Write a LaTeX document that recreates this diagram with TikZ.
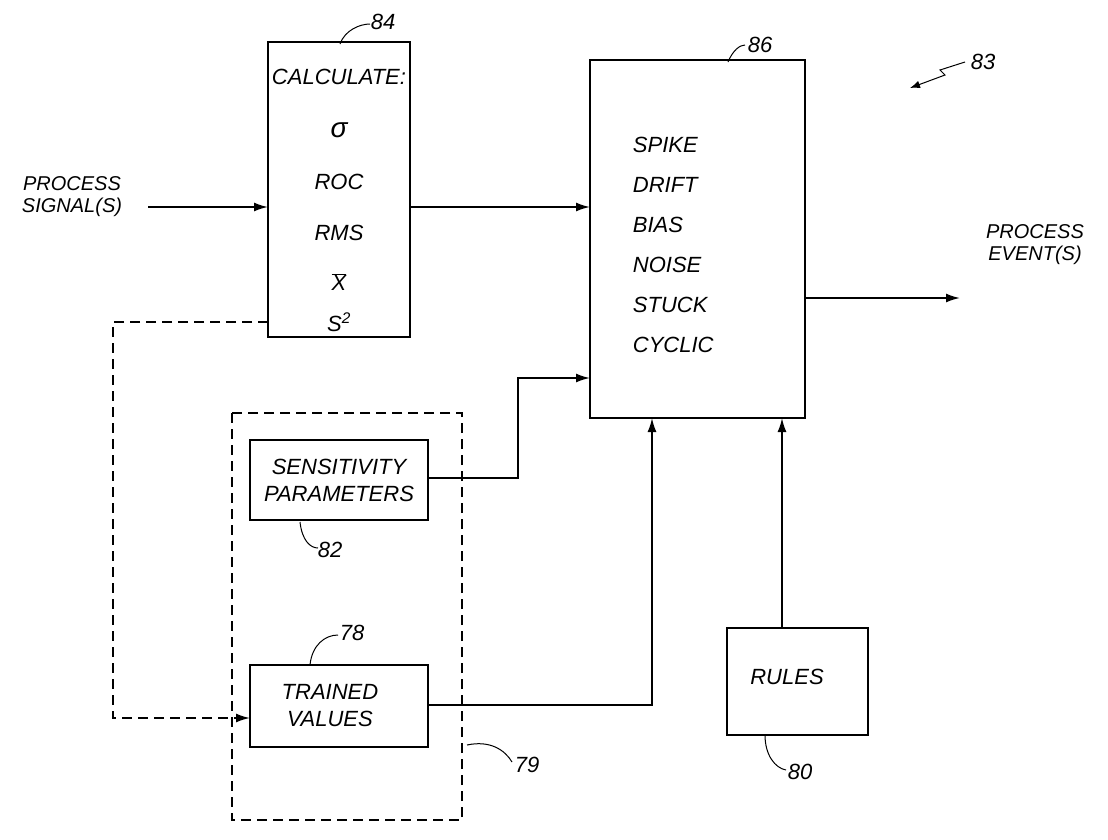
\documentclass[tikz,border=0pt]{standalone}
\usepackage{fontspec}
\setmainfont{Liberation Sans}
\usetikzlibrary{arrows.meta}
\begin{document}
\begin{tikzpicture}[x=1pt,y=-1pt,line width=1.8pt,
  txt/.style={font=\fontsize{22}{27}\selectfont\itshape,inner sep=0pt,align=center},
  lbl/.style={font=\fontsize{22}{26}\selectfont\itshape,inner sep=1pt},
  arr/.style={-{Latex[length=14pt,width=9pt]}},
  dsh/.style={dash pattern=on 10pt off 6pt}]
\useasboundingbox (0,0) rectangle (1108,839);
% boxes
\draw (268,42) rectangle (410,337);
\draw (590,60) rectangle (805,418);
\draw[dsh] (232,413) rectangle (462,820);
\draw (250,440) rectangle (428,520);
\draw (250,665) rectangle (428,747);
\draw (727,628) rectangle (868,735);
% texts box 84
\node[txt] (c1) at (339,77) {CALCULATE:};
\node[txt,font=\fontsize{28}{30}\selectfont\itshape] (c2) at (339,130) {σ};
\node[txt] (c3) at (339,182) {ROC};
\node[txt] (c4) at (339,233) {RMS};
\node[txt] (c5) at (339,282) {$\overline{\hbox{X}}$};
\node[txt] (c6) at (339,322) {S\textsuperscript{2}};
% box 86
\foreach \t/\y in {SPIKE/145,DRIFT/185,BIAS/225,NOISE/265,STUCK/305,CYCLIC/345}
  \node[txt,anchor=west] at (632,\y) {\t};
\node[txt] (sp) at (339,480) {SENSITIVITY\\PARAMETERS};
\node[txt] (tv) at (330,706) {TRAINED\\VALUES};
\node[txt] (ru) at (787,677) {RULES};
\node[txt,font=\fontsize{20}{22}\selectfont\itshape] (ps) at (72,197) {PROCESS\\SIGNAL(S)};
\node[txt,font=\fontsize{20}{22}\selectfont\itshape] (pe) at (1035,245) {PROCESS\\EVENT(S)};
% ref labels
\node[lbl] (l84) at (383,22) {84};
\draw[line width=1pt] (340,44) .. controls (345,30) and (360,24) .. (370,24);
\node[lbl] (l86) at (760,45) {86};
\draw[line width=1pt] (728,62) .. controls (733,50) and (740,45) .. (745,45);
\node[lbl] (l83) at (983,62) {83};
\draw[line width=1pt,-{Latex[length=10pt]}] (965,62) -- (940,70) -- (945,75) -- (910,88);
\node[lbl] (l82) at (330,550) {82};
\draw[line width=1pt] (300,522) .. controls (302,540) and (310,548) .. (318,548);
\node[lbl] (l78) at (352,633) {78};
\draw[line width=1pt] (310,665) .. controls (312,645) and (325,635) .. (338,635);
\node[lbl] (l79) at (527,765) {79};
\draw[line width=1pt] (467,745) .. controls (490,740) and (505,750) .. (512,762);
\node[lbl] (l80) at (800,772) {80};
\draw[line width=1pt] (765,735) .. controls (765,755) and (775,768) .. (786,770);
% connectors
\draw[arr] (148,207) -- (268,207);
\draw[arr] (410,207) -- (590,207);
\draw[arr] (805,298) -- (960,298);
\draw[arr] (428,478) -- (518,478) -- (518,378) -- (590,378);
\draw[arr] (428,705) -- (652,705) -- (652,418);
\draw[arr] (782,628) -- (782,418);
\draw[dsh,arr] (268,322) -- (113,322) -- (113,718) -- (250,718);
\end{tikzpicture}
\end{document}
